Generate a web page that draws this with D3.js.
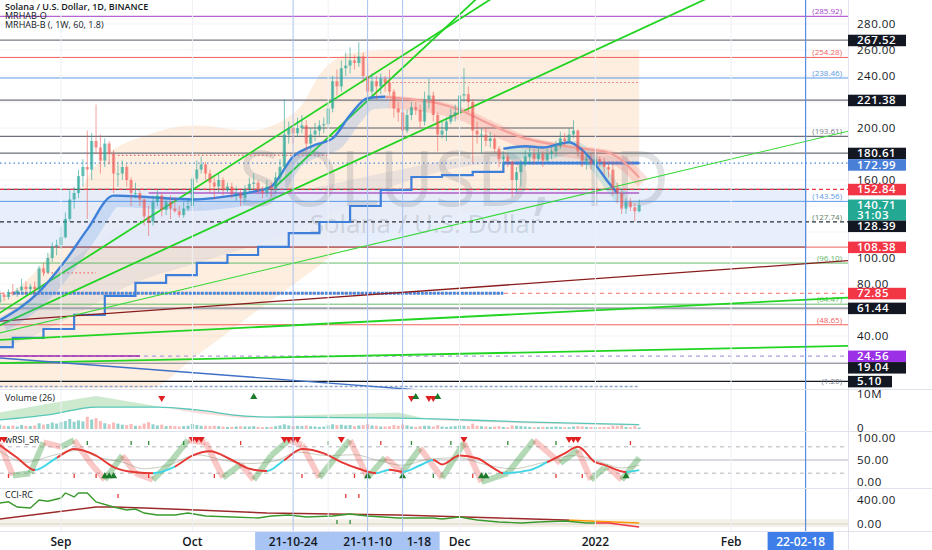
<!DOCTYPE html>
<html><head><meta charset="utf-8">
<script src="https://cdn.jsdelivr.net/npm/d3@7"></script>
<style>
body{margin:0;background:#fff}
svg{display:block}
text{font-family:"Open Sans","DejaVu Sans",sans-serif}
</style></head>
<body><svg id="c" width="932" height="550"></svg>
<script>
// ================= DATA =================
const firstDay = "2021-08-18";
const firstOpen = 66;
const closes = [72,70,74,73,75,78,76,78,76,92,89,100,109,110,
116,130,145,150,163,170,168,190,185,175,188,180,165,165,170,160,150,150,145,132,128,143,148,137,143,138,136,133,138,140,
161,168,172,165,158,155,160,152,155,149,150,146,153,157,158,152,150,155,153,162,170,195,200,196,200,202,188,195,198,202,203,
215,236,232,246,248,252,250,255,240,228,236,232,238,235,228,215,212,198,210,216,214,205,222,225,210,195,198,205,210,212,
225,226,220,198,195,195,190,192,184,176,178,174,160,166,172,178,180,176,180,175,180,182,186,192,190,195,198,182,175,176,172,
176,174,170,168,154,150,138,143,139,136,140.71];
const highs = [75,74,76,80,77,84,82,80,82,94,96,104,112,114,
124,135,152,155,168,176,198,196,218,195,192,190,183,172,175,172,162,158,152,146,140,148,152,150,146,148,147,140,143,145,
164,175,178,174,168,162,165,162,158,158,155,152,156,162,165,160,155,160,158,166,176,222,205,203,208,210,206,200,204,206,208,
220,240,245,252,258,262,256,266,258,250,242,240,242,240,245,230,220,214,214,220,220,218,228,238,228,212,205,208,215,218,
235,246,232,222,205,200,200,197,195,186,182,180,175,170,175,183,185,184,185,182,184,186,190,197,196,200,206,199,185,180,180,
180,178,177,173,172,158,152,146,146,142,145];
const lows = [65,67,68,71,70,74,72,73,72,75,86,88,97,102,
107,115,128,138,146,155,130,160,180,165,170,172,150,155,160,155,140,146,140,125,117,125,140,132,133,130,135,131,131,136,
138,158,165,160,150,145,150,148,150,146,144,140,143,150,152,150,146,147,147,150,158,168,188,188,193,196,182,183,190,194,196,
200,212,225,228,240,242,245,247,235,222,225,222,226,228,225,208,205,192,196,206,210,200,202,215,205,182,192,190,203,205,
210,220,212,173,188,180,186,185,181,170,170,170,147,150,155,170,172,172,174,170,173,176,178,184,186,188,192,178,170,168,168,
170,170,164,162,148,142,134,134,136,128,135];
const volumes = [1.2,0.9,0.8,1.0,0.7,1.1,0.9,0.8,1.0,1.6,1.2,1.4,1.8,1.5,
1.9,2.2,2.8,2.0,2.4,2.1,3.4,2.6,3.0,2.2,1.6,1.3,1.8,1.5,1.2,1.1,1.4,0.9,0.9,1.5,1.9,1.3,1.0,1.2,0.8,0.9,0.8,0.7,0.8,0.9,
1.4,1.1,0.9,0.9,0.8,0.9,0.8,0.7,0.6,0.6,0.7,0.8,0.7,0.7,0.8,0.6,0.5,0.6,0.6,0.8,1.0,1.3,1.0,0.8,0.9,0.8,1.0,0.8,0.7,0.6,0.7,
1.0,1.3,1.1,1.2,1.0,1.1,0.8,1.0,1.1,1.3,1.0,0.9,0.7,0.7,0.8,1.1,0.9,1.2,1.0,0.7,0.6,0.8,0.9,0.9,0.7,1.1,0.7,0.6,0.7,0.8,
1.0,0.9,0.8,1.5,0.9,0.8,0.7,0.6,0.7,0.8,0.6,0.5,1.0,0.9,0.8,0.7,0.6,0.5,0.5,0.6,0.6,0.6,0.7,0.6,0.5,0.5,0.7,0.8,0.7,0.6,0.6,
0.5,0.5,0.6,0.6,0.9,0.8,1.0,0.6,0.5,0.8,0.4];

// price axis ticks
const priceTicks = [20,40,60,80,100,120,140,160,180,200,220,240,260,280];
// date axis labels
const dateLabels = [["2021-09-01","Sep"],["2021-10-01","Oct"],["2021-12-01","Dec"],["2022-01-01","2022"],["2022-02-01","Feb"]];
const gridDates = ["2021-09-01","2021-10-01","2021-11-01","2021-12-01","2022-01-01","2022-02-01"];
const markedDates = ["2021-10-24","2021-11-10","2021-11-18"];
const markedLabels = ["21-10-24","21-11-10","21-11-18"];
const futureDate = "2022-02-18", futureLabel = "22-02-18";

// horizontal levels
const levels = [285.92,267.52,254.28,238.46,221.38,193.61,180.61,172.99,152.84,143.56,127.74,108.38,96.10,72.85,64.47,61.44,48.65,24.56,19.04,5.10,1.20];
const levelTags = [285.92,254.28,238.46,193.61,143.56,127.74,96.10,64.47,48.65,1.20];
// segments [from, to, price]
const segPurple = [["2021-09-21","2022-01-11",150]];
const segRedDot = [["2021-09-14","2021-11-01",179],["2021-11-12","2022-01-11",235],["2021-08-28","2021-09-09",88.5]];
const segGray = [["2021-10-26","2021-12-27",200]];
const segBlueThick = [["2021-08-21","2021-12-11",72.85],["2021-12-11","2022-01-11",172.99]];
const segPurpleLow = [["2021-08-10","2021-09-19",24.56]];
const segLowDash = [["2021-08-10","2022-01-11",1.20]];
// rectangle zone
const zone = {from:"2021-08-01", to:"2022-02-18", top:152.84, bottom:108.38};

// right-axis badges
const badgeVals = [267.52,221.38,180.61,172.99,152.84,140.71,128.39,108.38,72.85,61.44,24.56,19.04,5.10];
const badgeKinds = ["k","k","k","b","r","t","k","r","r","k","p","k","k"];
const countdown = "31:03";

// trend lines: anchors [date, price]
const trendSteep1 = [["2021-08-18",57.7],["2021-11-26",273]];
const trendSteep2 = [["2021-10-20",155],["2021-11-26",271.5]];
const trendMid = [["2021-08-18",48.2],["2022-01-11",275.5]];
const trendThin = [["2021-08-18",42.3],["2022-01-11",159.3]];
const trendLow1 = [["2021-08-18",37.0],["2022-01-11",61.5]];
const trendLow2 = [["2021-08-18",19.2],["2022-01-11",29.1]];
const trendRed = [["2021-08-18",51.5],["2022-01-11",86.5]];
const trendBlueDown = [["2021-08-18",23.1],["2021-11-10",1.5]];

// weekly step line [date, price]
const weeklyStep = [["2021-08-10",31.5],["2021-08-21",38.5],["2021-08-28",45.4],["2021-09-04",56.2],["2021-09-11",70.8],["2021-09-18",80.8],["2021-09-25",86.9],["2021-10-02",96.2],["2021-10-09",102.3],["2021-10-16",108.5],["2021-10-23",119.2],["2021-10-30",127.7],["2021-11-06",140],["2021-11-13",152.3],["2021-11-20",162.3],["2021-11-27",163.8],["2021-12-04",166.2],["2021-12-11",173],["2022-01-11",173]];

// weekly band [date, lower, upper]
const peachBand = [["2021-08-10",0,60],["2021-08-18",0,68],["2021-08-30",0,106],["2021-09-09",0,172],["2021-09-21",0,195],["2021-10-02",25,202],["2021-10-14",55,198],["2021-10-25",82,214],["2021-10-31",97,245],["2021-11-07",115,258],["2021-11-15",124,260],["2022-01-11",145,260]];
const grayBand = [["2021-08-10",28,50],["2021-08-18",31,55],["2021-09-04",56,100],["2021-09-18",81,130],["2021-10-02",96,140],["2021-10-23",119,150],["2021-11-13",152,165],["2021-12-11",173,180],["2022-01-11",173,178]];

// daily MA lines
const maBlue1 = [["2021-08-18",52],["2021-08-27",74],["2021-09-02",98],["2021-09-07",122],["2021-09-13",148],["2021-09-20",147],["2021-10-01",145],["2021-10-08",147],["2021-10-15",151],["2021-10-19",155],["2021-10-24",178],["2021-10-29",187],["2021-11-02",192],["2021-11-06",210],["2021-11-10",223],["2021-11-14",224]];
const maBlue2 = [["2021-12-11",184],["2021-12-16",186],["2021-12-20",185],["2021-12-26",189],["2021-12-29",183],["2022-01-01",172],["2022-01-04",158],["2022-01-06",150]];
const maPink = [["2021-11-14",224],["2021-11-20",222],["2021-11-26",219],["2021-12-01",214],["2021-12-06",206],["2021-12-15",193],["2021-12-27",185],["2022-01-04",181],["2022-01-11",162]];

// volume indicator
const volMA = [["2021-08-18",2.5],["2021-08-29",3.9],["2021-09-09",6.1],["2021-09-23",6.1],["2021-10-02",5.3],["2021-10-13",3.6],["2021-10-20",3.3],["2021-11-17",3.0],["2021-11-25",2.8],["2021-12-15",2.0],["2022-01-11",1.2]];
const volEdge = [["2021-08-18",4.6],["2021-08-29",7.0],["2021-09-09",9.2],["2021-09-23",6.3],["2021-10-02",4.4],["2021-10-13",3.0],["2021-10-20",3.6],["2021-11-17",4.6],["2021-11-25",2.4],["2021-12-15",1.6],["2022-01-11",0.9]];
const volSignalsDown = ["2021-09-24","2021-11-20","2021-11-24","2021-11-25"];
const volSignalsUp = ["2021-10-15","2021-11-21","2021-11-26"];

// wRSI_SR
const rsiSmooth = [["2021-08-18",84],["2021-08-22",55],["2021-08-26",27],["2021-08-31",55],["2021-09-04",75],["2021-09-09",60],["2021-09-13",34],["2021-09-18",22],["2021-09-22",20],["2021-09-27",35],["2021-10-01",60],["2021-10-05",70],["2021-10-10",50],["2021-10-14",30],["2021-10-18",25],["2021-10-22",50],["2021-10-26",75],["2021-10-31",65],["2021-11-04",45],["2021-11-08",30],["2021-11-12",20],["2021-11-15",28],["2021-11-18",23],["2021-11-22",38],["2021-11-25",50],["2021-11-27",40],["2021-12-01",60],["2021-12-05",54],["2021-12-09",30],["2021-12-11",20],["2021-12-17",27],["2021-12-21",45],["2021-12-25",65],["2021-12-28",80],["2022-01-01",45],["2022-01-03",39],["2022-01-08",23],["2022-01-11",27]];
const rsiFast = [["2021-08-18",88],["2021-08-21",15],["2021-08-25",20],["2021-08-28",90],["2021-09-01",80],["2021-09-04",95],["2021-09-08",40],["2021-09-11",5],["2021-09-15",60],["2021-09-18",20],["2021-09-22",5],["2021-09-26",45],["2021-09-30",95],["2021-10-04",90],["2021-10-08",10],["2021-10-12",40],["2021-10-15",5],["2021-10-19",60],["2021-10-23",95],["2021-10-26",85],["2021-10-30",10],["2021-11-03",60],["2021-11-06",95],["2021-11-10",10],["2021-11-14",55],["2021-11-18",23],["2021-11-22",77],["2021-11-27",9],["2021-12-02",89],["2021-12-06",0],["2021-12-12",20],["2021-12-18",95],["2021-12-24",43],["2021-12-28",73],["2021-12-31",5],["2022-01-03",32],["2022-01-04",34],["2022-01-07",5],["2022-01-11",55]];
const rsiRaw = [["2021-08-18",70],["2021-08-24",45],["2021-08-30",60],["2021-09-05",72],["2021-09-10",55],["2021-09-15",45],["2021-09-20",30],["2021-09-26",40],["2021-10-02",62],["2021-10-08",50],["2021-10-14",42],["2021-10-20",48],["2021-10-25",68],["2021-11-01",60],["2021-11-07",62],["2021-11-12",50],["2021-11-18",38],["2021-11-24",52],["2021-12-01",55],["2021-12-06",42],["2021-12-13",30],["2021-12-20",44],["2021-12-27",60],["2022-01-02",46],["2022-01-07",32],["2022-01-11",38]];
const rsiTopSignals = ["2021-08-18","2021-08-19","2021-10-01","2021-10-02","2021-10-03","2021-10-22","2021-10-23","2021-10-24","2021-10-25","2021-11-04","2021-12-02","2021-12-26","2021-12-27","2021-12-28"];
const rsiBottomSignals = ["2021-09-11","2021-09-12","2021-09-13","2021-11-10","2021-11-18","2021-12-06","2021-12-07","2022-01-08"];
const rsiTickHighGreen = ["2021-09-07","2021-09-17","2021-09-21","2021-09-29","2021-11-01","2021-11-20","2021-11-29","2021-12-12","2021-12-23"];
const rsiTickHighRed = ["2021-10-12","2021-11-13","2022-01-09"];
const rsiTickLowRed = ["2021-08-20","2021-09-04","2021-09-09","2021-09-21","2021-10-06","2021-10-26","2021-11-07","2021-12-04","2021-12-23","2021-12-29"];
const rsiTickLowGreen = ["2021-11-25"];

// CCI-RC
const cciLine = [["2021-08-18",350],["2021-08-20",370],["2021-08-22",283],["2021-08-25",267],["2021-08-27",400],["2021-08-29",380],["2021-09-01",433],["2021-09-02",517],["2021-09-04",450],["2021-09-05",517],["2021-09-07",517],["2021-09-09",367],["2021-09-13",283],["2021-09-16",233],["2021-09-18",250],["2021-09-20",183],["2021-09-23",150],["2021-09-27",150],["2021-09-30",183],["2021-10-04",133],["2021-10-10",117],["2021-10-16",100],["2021-10-19",133],["2021-10-23",150],["2021-10-27",117],["2021-11-02",133],["2021-11-06",167],["2021-11-10",133],["2021-11-17",100],["2021-11-25",100],["2021-11-27",83],["2021-12-01",117],["2021-12-05",67],["2021-12-10",33],["2021-12-15",17],["2021-12-19",33],["2021-12-25",50],["2021-12-30",17],["2022-01-04",17],["2022-01-11",-50]];
const cciSignal = [["2021-08-18",83],["2021-08-29",183],["2021-09-09",283],["2021-09-13",283],["2021-09-20",267],["2021-10-02",233],["2021-10-18",183],["2021-11-02",167],["2021-11-17",150],["2021-12-10",100],["2021-12-25",67],["2022-01-11",17]];
const cciBand = [-50, 80];
const cciTickRed = ["2021-09-14","2021-11-05","2021-11-08"];
const cciTickGreen = ["2021-11-03","2021-11-06"];

// ================= DRAW =================
const svg = d3.select("#c");
const PR = 848;
const D = s => new Date(s + "T00:00:00Z");
const x = d3.scaleUtc().domain([D("2021-09-01"), D("2022-02-18")]).range([61, 805.6]);
const y = d3.scaleLinear().domain([0, 280]).range([388, 24]);
const yV = d3.scaleLinear().domain([0, 10]).range([429, 393]);
const yR = d3.scaleLinear().domain([0, 100]).range([482, 438]);
const yC = d3.scaleLinear().domain([0, 400]).range([524, 500]);

const days = closes.map((c, i) => d3.utcDay.offset(D(firstDay), i));
const candles = closes.map((c, i) => ({d: days[i], o: i ? closes[i-1] : firstOpen, h: highs[i], l: lows[i], c}));

const defs = svg.append("defs");
function clip(id, x0, y0, w, h){ defs.append("clipPath").attr("id", id).append("rect").attr("x", x0).attr("y", y0).attr("width", w).attr("height", h); }
clip("cp", 0, 0, PR, 389); clip("cv", 0, 390, PR, 41); clip("cr", 0, 432, PR, 56); clip("cc", 0, 489, PR, 42);

svg.append("rect").attr("width", 932).attr("height", 550).attr("fill", "#fff");
const gP = svg.append("g").attr("clip-path", "url(#cp)");
const gV = svg.append("g").attr("clip-path", "url(#cv)");
const gR = svg.append("g").attr("clip-path", "url(#cr)");
const gC = svg.append("g").attr("clip-path", "url(#cc)");

// grid
gridDates.forEach(s => {
  svg.append("line").attr("x1", x(D(s))).attr("x2", x(D(s))).attr("y1", 0).attr("y2", 531).attr("stroke", "#eef0f5");
});
priceTicks.forEach(v => gP.append("line").attr("x1", 0).attr("x2", PR).attr("y1", y(v)).attr("y2", y(v)).attr("stroke", "#f2f3f7"));

// bands
const bandArea = d3.area().x(d => x(D(d[0]))).y0(d => y(d[1])).y1(d => y(d[2])).curve(d3.curveMonotoneX);
gP.append("path").attr("d", bandArea(peachBand)).attr("fill", "rgba(246,170,95,0.2)");
gP.append("path").attr("d", bandArea(grayBand)).attr("fill", "rgba(120,140,185,0.13)");

// zone rect
gP.append("rect").attr("x", x(D(zone.from))).attr("y", y(zone.top))
  .attr("width", x(D(zone.to)) - x(D(zone.from))).attr("height", y(zone.bottom) - y(zone.top))
  .attr("fill", "rgba(226,236,252,0.82)").attr("stroke", "#2a2e39").attr("stroke-width", 1);

// watermark
gP.append("text").attr("x", 454).attr("y", 206).attr("text-anchor", "middle").attr("font-size", 76)
  .attr("fill", "rgba(120,123,134,0.22)").text("SOLUSD, 1D");
gP.append("text").attr("x", 425).attr("y", 233).attr("text-anchor", "middle").attr("font-size", 26)
  .attr("fill", "rgba(120,123,134,0.24)").text("Solana / U.S. Dollar");

// horizontal levels
const levelStyle = {
  285.92:["#a43ec6",1,""],267.52:["#787b86",1.2,""],254.28:["#f0605d",1,""],238.46:["#5a9ae6",1,""],
  221.38:["#6f727d",1.2,""],193.61:["#6f727d",1.2,""],180.61:["#6f727d",1.2,""],172.99:["#4a86d8",1.3,"1.5,3"],
  152.84:["#f23645",1.2,"4,3"],143.56:["#5a9ae6",1,""],127.74:["#2a2e39",1.2,"4,3"],108.38:["#f0605d",1,""],
  96.10:["#66bb6a",1,""],72.85:["#f07070",1,"4,4"],64.47:["#66bb6a",1,""],61.44:["#a0a3ad",2,""],
  48.65:["#f0605d",1,""],24.56:["#b39ddb",1.2,"4,4"],19.04:["#787b86",1.2,""],5.10:["#131722",1.4,""],1.20:["#aab6cf",0,""]
};
levels.forEach(v => {
  const s = levelStyle[v]; if (!s[1]) return;
  gP.append("line").attr("x1", 0).attr("x2", PR).attr("y1", y(v)).attr("y2", y(v))
    .attr("stroke", s[0]).attr("stroke-width", s[1]).attr("stroke-dasharray", s[2] || null);
});
function seg(g, arr, color, w, dash){
  arr.forEach(a => g.append("line").attr("x1", x(D(a[0]))).attr("x2", x(D(a[1]))).attr("y1", y(a[2])).attr("y2", y(a[2]))
    .attr("stroke", color).attr("stroke-width", w).attr("stroke-dasharray", dash || null));
}
seg(gP, segGray, "#5f6270", 1.2);
seg(gP, segPurple, "#b05cc8", 1.6);
seg(gP, segRedDot, "#f06a6a", 1.2, "1.5,2.5");
seg(gP, segPurpleLow, "#9c27b0", 1.6);
seg(gP, segLowDash, "#8ea4cc", 1.6, "3,2");
seg(gP, segBlueThick, "#4a86d8", 3, "3,1");

// tags inside plot
levelTags.forEach(v => {
  const s = levelStyle[v];
  let col = s[0]; if (v === 193.61 || v === 1.20) col = "#787b86"; if (v === 127.74) col = "#5f7f5f";
  gP.append("text").attr("x", 842).attr("y", y(v) - 2).attr("text-anchor", "end").attr("font-size", 8)
    .attr("fill", col).text("(" + v.toFixed(2) + ")");
});

// vertical marker lines
markedDates.forEach(s => svg.append("line").attr("x1", x(D(s))).attr("x2", x(D(s))).attr("y1", 0).attr("y2", 531).attr("stroke", "#a9c1f0").attr("stroke-width", 1));
svg.append("line").attr("x1", x(D(futureDate))).attr("x2", x(D(futureDate))).attr("y1", 0).attr("y2", 531).attr("stroke", "#5b8ee0").attr("stroke-width", 1.2);

// weekly step line
const stepLine = d3.line().x(d => x(D(d[0]))).y(d => y(d[1])).curve(d3.curveStepAfter);
gP.append("path").attr("d", stepLine(weeklyStep)).attr("fill", "none").attr("stroke", "#3f7fd9").attr("stroke-width", 2.2);

// trend lines (extended)
function trend(a, color, w, extendLeft){
  const x1 = x(D(a[0][0])), y1 = y(a[0][1]), x2 = x(D(a[1][0])), y2 = y(a[1][1]);
  const k = (y2 - y1) / (x2 - x1);
  const xs = extendLeft ? -20 : x1, xe = PR + 20;
  gP.append("line").attr("x1", xs).attr("y1", y1 + k * (xs - x1)).attr("x2", xe).attr("y2", y1 + k * (xe - x1))
    .attr("stroke", color).attr("stroke-width", w);
}
trend(trendRed, "#8b1c1c", 1.3, true);
trend(trendLow1, "#22d422", 1.8, true);
trend(trendLow2, "#22d422", 1.8, true);
trend(trendThin, "#39d839", 1.1, true);
trend(trendMid, "#22d422", 1.8, true);
trend(trendSteep1, "#22d422", 1.8, true);
trend(trendSteep2, "#22d422", 1.8, false);
trend(trendBlueDown, "#3f70c8", 1.4, true);

// MA lines with bands
const maLine = d3.line().x(d => x(D(d[0]))).y(d => y(d[1])).curve(d3.curveMonotoneX);
[[maBlue1, "rgba(90,150,230,0.22)"], [maBlue2, "rgba(80,190,200,0.25)"], [maPink, "rgba(240,110,110,0.22)"]].forEach(m => {
  gP.append("path").attr("d", maLine(m[0])).attr("fill", "none").attr("stroke", m[1]).attr("stroke-width", 13).attr("transform", "translate(4,5)");
});
gP.append("path").attr("d", maLine(maPink)).attr("fill", "none").attr("stroke", "#f4a09a").attr("stroke-width", 2.2);
gP.append("path").attr("d", maLine(maBlue1)).attr("fill", "none").attr("stroke", "#3f80d8").attr("stroke-width", 2.4);
gP.append("path").attr("d", maLine(maBlue2)).attr("fill", "none").attr("stroke", "#3f80d8").attr("stroke-width", 2.4);

// candles
const upC = "rgba(38,166,154,0.62)", dnC = "rgba(239,83,80,0.55)";
const cg = gP.append("g");
candles.forEach(k => {
  const cx = x(k.d), col = k.c >= k.o ? upC : dnC;
  cg.append("line").attr("x1", cx).attr("x2", cx).attr("y1", y(k.h)).attr("y2", y(k.l)).attr("stroke", col).attr("stroke-width", 1);
  const t = y(Math.max(k.o, k.c)), b = y(Math.min(k.o, k.c));
  cg.append("rect").attr("x", cx - 1.6).attr("width", 3.2).attr("y", t).attr("height", Math.max(1, b - t)).attr("fill", col);
});

// ===== volume panel =====
for (let i = 0; i < volMA.length - 1; i++) {
  const p0 = volMA[i], p1 = volMA[i+1], e0 = volEdge[i], e1 = volEdge[i+1];
  const up = (e0[1] + e1[1]) >= (p0[1] + p1[1]);
  const path = d3.line()([[x(D(p0[0])), yV(p0[1])], [x(D(p1[0])), yV(p1[1])], [x(D(e1[0])), yV(e1[1])], [x(D(e0[0])), yV(e0[1])]]) + "Z";
  gV.append("path").attr("d", path).attr("fill", up ? "rgba(76,175,80,0.28)" : "rgba(239,83,80,0.2)");
}
candles.forEach((k, i) => {
  const cx = x(k.d);
  gV.append("rect").attr("x", cx - 1.5).attr("width", 3).attr("y", yV(volumes[i])).attr("height", yV(0) - yV(volumes[i]))
    .attr("fill", k.c >= k.o ? "rgba(38,166,154,0.5)" : "rgba(239,83,80,0.4)");
});
gV.append("path").attr("d", d3.line().x(d => x(D(d[0]))).y(d => yV(d[1])).curve(d3.curveMonotoneX)(volMA))
  .attr("fill", "none").attr("stroke", "#56c7b8").attr("stroke-width", 1.3);
const tri = d3.symbol().type(d3.symbolTriangle).size(22);
volSignalsDown.forEach(s => gV.append("path").attr("d", tri()).attr("transform", `translate(${x(D(s))},398) rotate(180)`).attr("fill", "#e02020"));
volSignalsUp.forEach(s => gV.append("path").attr("d", tri()).attr("transform", `translate(${x(D(s))},397)`).attr("fill", "#1b7a2a"));

// ===== RSI panel =====
[80, 20].forEach(v => gR.append("line").attr("x1", 0).attr("x2", PR).attr("y1", yR(v)).attr("y2", yR(v)).attr("stroke", "#b2b5be").attr("stroke-dasharray", "4,4"));
gR.append("line").attr("x1", 0).attr("x2", PR).attr("y1", yR(50)).attr("y2", yR(50)).attr("stroke", "#b2b5be");
for (let i = 0; i < rsiFast.length - 1; i++) {
  const a = rsiFast[i], b = rsiFast[i+1];
  gR.append("line").attr("x1", x(D(a[0]))).attr("y1", yR(a[1])).attr("x2", x(D(b[0]))).attr("y2", yR(b[1]))
    .attr("stroke", b[1] >= a[1] ? "rgba(76,165,80,0.42)" : "rgba(239,83,80,0.32)").attr("stroke-width", 6);
}
gR.append("path").attr("d", d3.line().x(d => x(D(d[0]))).y(d => yR(d[1])).curve(d3.curveMonotoneX)(rsiRaw))
  .attr("fill", "none").attr("stroke", "rgba(130,140,110,0.55)").attr("stroke-width", 0.8);
const gr = defs.append("linearGradient").attr("id", "rsig").attr("gradientUnits", "userSpaceOnUse").attr("x1", 0).attr("x2", PR).attr("y1", 0).attr("y2", 0);
for (let i = 0; i < rsiSmooth.length - 1; i++) {
  const a = rsiSmooth[i], b = rsiSmooth[i+1];
  const col = b[1] < a[1] || b[1] > 55 ? "#e53935" : "#3fd6e8";
  gr.append("stop").attr("offset", x(D(a[0])) / PR).attr("stop-color", col);
  gr.append("stop").attr("offset", x(D(b[0])) / PR).attr("stop-color", col);
}
gR.append("path").attr("d", d3.line().x(d => x(D(d[0]))).y(d => yR(d[1])).curve(d3.curveMonotoneX)(rsiSmooth))
  .attr("fill", "none").attr("stroke", "url(#rsig)").attr("stroke-width", 2);
rsiTopSignals.forEach(s => gR.append("path").attr("d", tri()).attr("transform", `translate(${x(D(s))},${yR(100)+1}) rotate(180)`).attr("fill", "#e02020"));
rsiBottomSignals.forEach(s => gR.append("path").attr("d", tri()).attr("transform", `translate(${x(D(s))},${yR(13)})`).attr("fill", "#1b7a2a"));
function ticks(g, arr, yy, col){ arr.forEach(s => g.append("rect").attr("x", x(D(s)) - 0.6).attr("y", yy).attr("width", 1.3).attr("height", 4).attr("fill", col)); }
ticks(gR, rsiTickHighGreen, 441, "#2e8b3a"); ticks(gR, rsiTickHighRed, 441, "#e53935");
ticks(gR, rsiTickLowRed, 474, "#e53935"); ticks(gR, rsiTickLowGreen, 474, "#2e8b3a");

// ===== CCI panel =====
gC.append("rect").attr("x", 0).attr("width", PR).attr("y", yC(cciBand[1])).attr("height", yC(cciBand[0]) - yC(cciBand[1])).attr("fill", "#f6f1e8");
gC.append("line").attr("x1", 0).attr("x2", PR).attr("y1", yC(0)).attr("y2", yC(0)).attr("stroke", "#d8d2c6");
function gradLine(id, data, splitDate, c1, c2, w){
  const g = defs.append("linearGradient").attr("id", id).attr("gradientUnits", "userSpaceOnUse").attr("x1", 0).attr("x2", PR).attr("y1", 0).attr("y2", 0);
  const o = x(D(splitDate)) / PR;
  g.append("stop").attr("offset", o).attr("stop-color", c1); g.append("stop").attr("offset", o).attr("stop-color", c2);
  gC.append("path").attr("d", d3.line().x(d => x(D(d[0]))).y(d => yC(d[1]))(data)).attr("fill", "none").attr("stroke", `url(#${id})`).attr("stroke-width", w);
}
gradLine("cs", cciSignal, "2021-12-26", "#9c2a2a", "#ff9800", 1.4);
gradLine("cl", cciLine, "2022-01-01", "#3a9a2e", "#f23645", 1.4);
ticks(gC, cciTickRed, 494, "#e53935"); ticks(gC, cciTickGreen, 520, "#2e8b3a");

// ===== panel separators =====
[389.5, 431.5, 488.5, 531.5].forEach(v => svg.append("line").attr("x1", 0).attr("x2", 932).attr("y1", v).attr("y2", v).attr("stroke", "#e0e3eb"));
svg.append("line").attr("x1", PR + 0.5).attr("x2", PR + 0.5).attr("y1", 0).attr("y2", 550).attr("stroke", "#e0e3eb");

// ===== right axis badges (positions resolved first) =====
const kindColor = {k: "#131722", b: "#4a7fd8", r: "#f23645", t: "#22a893", p: "#9b30e6"};
let prevBottom = -1e9;
const placed = badgeVals.map((v, i) => ({v, kind: badgeKinds[i]})).sort((a, b) => b.v - a.v).map(bd => {
  const tall = bd.kind === "t", h = tall ? 21 : 11.5;
  let top = y(bd.v) - 5.5;
  if (top < prevBottom) top = prevBottom;
  prevBottom = top + h;
  return Object.assign(bd, {top, h, tall});
});

const ax = svg.append("g").attr("font-size", 11.5).attr("fill", "#131722").attr("letter-spacing", "0.5");
priceTicks.forEach(v => {
  const ty = y(v);
  const hidden = placed.some(b => ty >= b.top - 0.5 && ty <= b.top + b.h + 0.5);
  if (!hidden) ax.append("text").attr("x", 857).attr("y", ty + 4).text(v.toFixed(2));
});
ax.append("text").attr("x", 857).attr("y", yV(10) + 5).text("10M");
ax.append("text").attr("x", 857).attr("y", yV(0) + 3).text("0");
[100, 50, 0].forEach(v => ax.append("text").attr("x", 857).attr("y", yR(v) + 4).text(v.toFixed(2)));
[400, 0].forEach(v => ax.append("text").attr("x", 857).attr("y", yC(v) + 4).text(v.toFixed(2)));

placed.forEach(bd => {
  const g = svg.append("g");
  const txt = g.append("text").attr("x", 857).attr("y", bd.top + 9.4).attr("font-size", 11.5).attr("letter-spacing", "0.5")
    .attr("font-weight", 600).attr("fill", "#fff").text(bd.v.toFixed(2));
  const w = txt.node().getComputedTextLength();
  g.insert("rect", "text").attr("x", 848).attr("y", bd.top).attr("width", Math.max(w + 14, bd.v < 10 ? 44 : 58)).attr("height", bd.h).attr("fill", kindColor[bd.kind]);
  if (bd.tall) g.append("text").attr("x", 857).attr("y", bd.top + 19).attr("font-size", 11.5).attr("letter-spacing", "0.5").attr("font-weight", 600).attr("fill", "#fff").text(countdown);
});

// ===== date axis =====
const da = svg.append("g").attr("font-size", 12).attr("font-weight", 600).attr("fill", "#131722").attr("text-anchor", "middle");
dateLabels.forEach(d => da.append("text").attr("x", x(D(d[0]))).attr("y", 546).text(d[1]));
const hx0 = x(D(markedDates[0])) - 38, hx1 = x(D(markedDates[2])) + 37;
const split = x(D(markedDates[1])) + 38;
defs.append("clipPath").attr("id", "cl18").append("rect").attr("x", split).attr("y", 532).attr("width", hx1 - split).attr("height", 18);
da.append("rect").attr("x", hx0).attr("y", 532).attr("width", hx1 - hx0).attr("height", 18).attr("fill", "#a8c4f4");
da.append("g").attr("clip-path", "url(#cl18)").append("text").attr("x", x(D(markedDates[2])) + 4).attr("y", 546).text(markedLabels[2]);
da.append("text").attr("x", x(D(markedDates[1]))).attr("y", 546).text(markedLabels[1]);
da.append("text").attr("x", x(D(markedDates[0]))).attr("y", 546).text(markedLabels[0]);
const fx = x(D(futureDate)) - 5;
da.append("rect").attr("x", fx - 33).attr("y", 532).attr("width", 66).attr("height", 18).attr("fill", "#3d7ee8");
da.append("text").attr("x", fx).attr("y", 546).attr("fill", "#fff").text(futureLabel);

// ===== legends =====
const lg = svg.append("g").attr("font-size", 9).attr("fill", "#131722");
lg.append("text").attr("x", 5).attr("y", 10).attr("font-weight", 600).text("Solana / U.S. Dollar, 1D, BINANCE");
lg.append("text").attr("x", 5).attr("y", 19).text("MRHAB-O");
lg.append("text").attr("x", 5).attr("y", 28).text("MRHAB-B (, 1W, 60, 1.8)");
lg.append("text").attr("x", 5).attr("y", 401).text("Volume (26)");
lg.append("text").attr("x", 5).attr("y", 443).text("wRSI_SR");
lg.append("text").attr("x", 5).attr("y", 498).text("CCI-RC");
</script>
</body></html>
